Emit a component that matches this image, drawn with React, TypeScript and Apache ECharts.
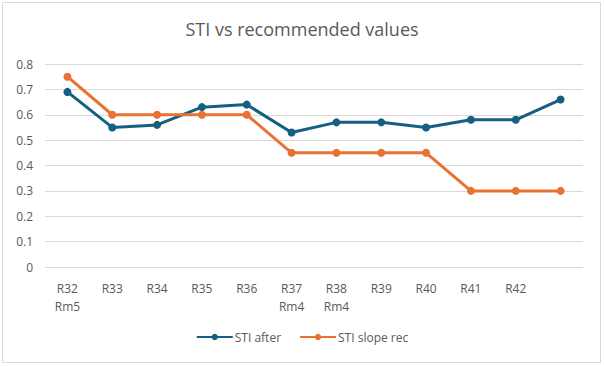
import React, { useEffect, useRef } from "react";
import * as echarts from "echarts";

const categories = ["R32\nRm5", "R33", "R34", "R35", "R36", "R37\nRm4", "R38\nRm4", "R39", "R40", "R41", "R42", ""];
const stiAfter = [0.69, 0.55, 0.56, 0.63, 0.64, 0.53, 0.57, 0.57, 0.55, 0.58, 0.58, 0.66];
const stiSlopeRec = [0.75, 0.6, 0.6, 0.6, 0.6, 0.45, 0.45, 0.45, 0.45, 0.3, 0.3, 0.3];
const seriesNames = ["STI after", "STI slope rec"];
const title = "STI vs recommended values";

const FONT = "'Open Sans', 'Noto Sans', sans-serif";
const TEXT = "#595959";

export default function App() {
  const ref = useRef<HTMLDivElement>(null);
  useEffect(() => {
    if (!ref.current) return;
    const chart = echarts.init(ref.current, null, { renderer: "svg" });
    chart.setOption({
      animation: false,
      backgroundColor: "#ffffff",
      textStyle: { fontFamily: FONT },
      title: {
        text: title,
        left: "center",
        top: 15,
        textStyle: { fontFamily: FONT, fontSize: 18, fontWeight: "normal", color: TEXT },
      },
      graphic: [
        {
          type: "rect",
          shape: { x: 2.5, y: 2.5, width: 598, height: 360 },
          style: { fill: "none", stroke: "#d9d9d9", lineWidth: 1 },
          silent: true,
        },
      ],
      legend: {
        bottom: 18,
        left: "center",
        itemWidth: 36,
        itemHeight: 8,
        itemGap: 18,
        textStyle: { fontFamily: FONT, fontSize: 12, color: TEXT, padding: [0, 0, 0, -3] },
        data: seriesNames,
      },
      grid: { left: 45, right: 21, top: 64, bottom: 99, containLabel: false },
      xAxis: {
        type: "category",
        data: categories,
        boundaryGap: true,
        axisLine: { show: false },
        axisTick: { show: false },
        axisLabel: {
          interval: 0,
          color: TEXT,
          fontFamily: FONT,
          fontSize: 12,
          margin: 12,
          lineHeight: 18,
        },
      },
      yAxis: {
        type: "value",
        min: 0,
        max: 0.8,
        interval: 0.1,
        axisLine: { show: false },
        axisTick: { show: false },
        axisLabel: {
          color: TEXT,
          fontFamily: FONT,
          fontSize: 12,
          margin: 12,
          formatter: (v: number) => (v === 0 ? "0" : String(Math.round(v * 10) / 10)),
        },
        splitLine: { lineStyle: { color: "#d9d9d9", width: 1 } },
      },
      series: [
        {
          name: seriesNames[0],
          type: "line",
          data: stiAfter,
          color: "#156082",
          lineStyle: { width: 3, color: "#156082" },
          itemStyle: { color: "#156082" },
          symbol: "circle",
          symbolSize: 8,
        },
        {
          name: seriesNames[1],
          type: "line",
          data: stiSlopeRec,
          color: "#E97132",
          lineStyle: { width: 3, color: "#E97132" },
          itemStyle: { color: "#E97132" },
          symbol: "circle",
          symbolSize: 8,
        },
      ],
    });
    return () => chart.dispose();
  }, []);
  return (
    <div
      ref={ref}
      style={{ position: "absolute", left: 0, top: 0, width: 604, height: 366 }}
    />
  );
}
